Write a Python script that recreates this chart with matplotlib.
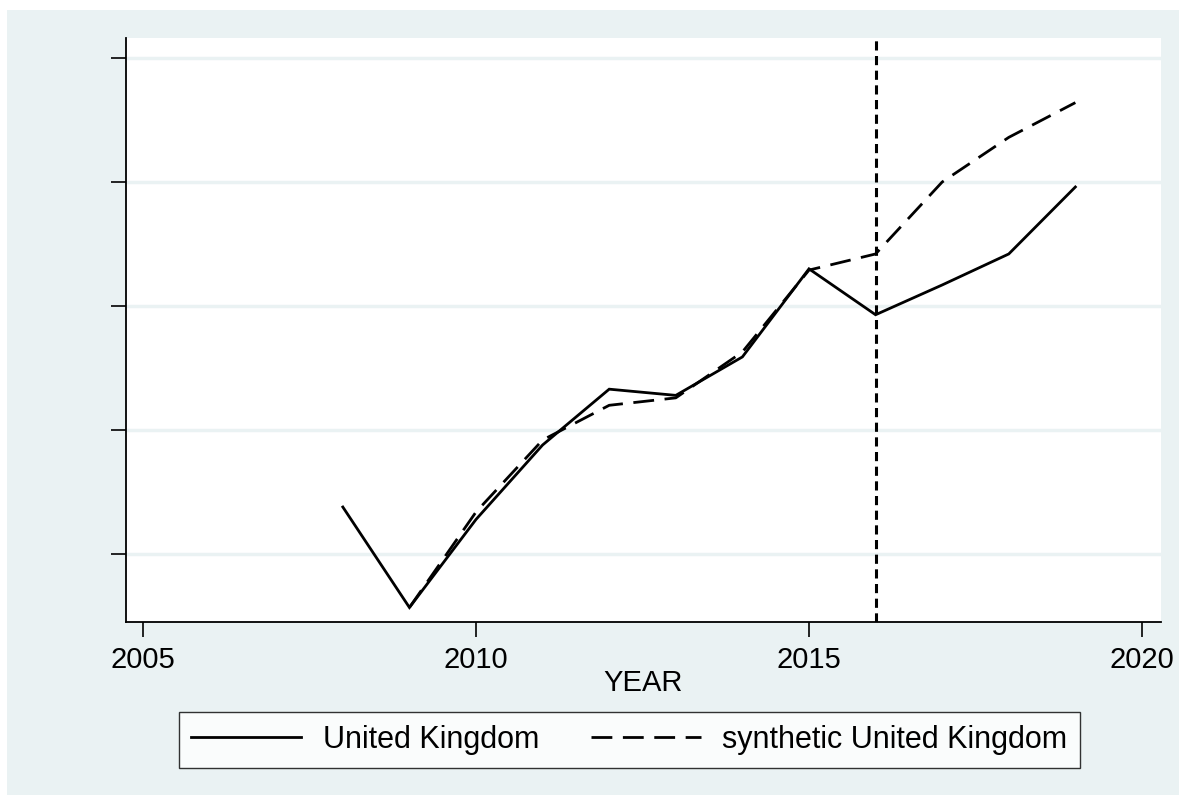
import matplotlib
matplotlib.use("Agg")
import matplotlib.pyplot as plt
from matplotlib.patches import Rectangle

years_uk = [2008, 2009, 2010, 2011, 2012, 2013, 2014, 2015, 2016, 2017, 2018, 2019]
uk = [0.38, -0.43, 0.28, 0.88, 1.33, 1.28, 1.59, 2.30, 1.93, 2.17, 2.42, 2.96]
years_syn = [2009, 2010, 2011, 2012, 2013, 2014, 2015, 2016, 2017, 2018, 2019]
synthetic = [-0.43, 0.34, 0.92, 1.20, 1.26, 1.63, 2.29, 2.42, 3.00, 3.36, 3.64]
xticks = [2005, 2010, 2015, 2020]
yticks = [0, 1, 2, 3, 4]
treat_year = 2016
labels = ["United Kingdom", "synthetic United Kingdom"]

W, H = 1179, 795
fig = plt.figure(figsize=(W / 100, H / 100), dpi=100)
fig.patch.set_facecolor("white")
bg = "#EAF2F3"
fig.patches.append(Rectangle((7 / W, 0), 1 - 7 / W, 1 - 10 / H,
                             transform=fig.transFigure, facecolor=bg,
                             edgecolor="none", zorder=-10))

ax = fig.add_axes([126 / W, 1 - 622 / H, (1161 - 126) / W, (622 - 38) / H])
ax.set_facecolor("white")
font = "Liberation Sans"
fs = 21

ax.plot(years_uk, uk, color="black", lw=2.0, solid_joinstyle="miter",
        label=labels[0])
ax.plot(years_syn, synthetic, color="black", lw=2.0, linestyle=(0, (7.5, 3.8)),
        label=labels[1])
ax.axvline(treat_year, color="black", lw=2.2, linestyle=(0, (3, 1.8)))

ax.set_xlim(2004.744, 2020.286)
ax.set_ylim(-0.547, 4.161)
ax.set_xticks(xticks)
ax.set_xticklabels([str(t) for t in xticks], fontfamily=font, fontsize=fs)
ax.set_yticks(yticks)
ax.set_yticklabels([])
ax.grid(axis="y", color=bg, lw=2.5)
ax.set_axisbelow(True)
ax.tick_params(axis="both", length=11, width=1.2, color="black", pad=6)
for s in ["top", "right"]:
    ax.spines[s].set_visible(False)
for s in ["left", "bottom"]:
    ax.spines[s].set_linewidth(1.3)
ax.set_xlabel("YEAR", fontfamily=font, fontsize=fs, labelpad=-3)

leg = fig.legend(loc="center", bbox_to_anchor=((174 + 1085) / 2 / W, 1 - 740 / H),
                 ncol=2, frameon=True, fancybox=False, handlelength=3.6,
                 columnspacing=1.7, handletextpad=0.7, borderpad=0.42,
                 borderaxespad=0, prop={"family": font, "size": 22})
leg.get_frame().set_edgecolor("black")
leg.get_frame().set_linewidth(1.0)

fig.savefig("out.png", dpi=100, facecolor=fig.get_facecolor())
